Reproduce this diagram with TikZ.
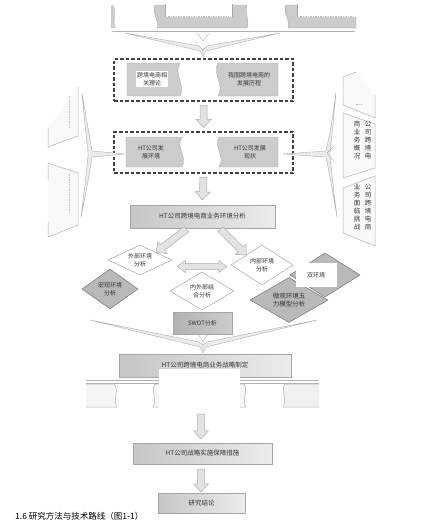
\documentclass[tikz,border=0pt]{standalone}
\usepackage{fontspec}
\newfontfamily\cjk{Noto Sans CJK SC}
\usetikzlibrary{shapes.geometric,calc}
\tikzset{
  txt/.style={font=\cjk\fontsize{6}{7.5}\selectfont, text=black!80, align=center, inner sep=0pt},
  dbox/.style={draw=black!75, dash pattern=on 3.5pt off 2pt, line width=1.1pt, inner sep=0pt},
  mainbox/.style={draw=gray!70, left color=gray!45, right color=gray!15, txt, font=\cjk\fontsize{6.5}{8}\selectfont},
  tape/.style={fill=gray!40, draw=gray!65, line width=0.4pt},
  dia/.style={diamond, aspect=2, draw=gray!70, line width=0.5pt, txt, inner sep=0pt},
  darkdia/.style={dia, fill=gray!55, draw=black!55},
  lightdia/.style={dia, fill=white},
  barrow/.style={fill=gray!22, draw=gray!65, line width=0.5pt},
  fan/.style={fill=gray!15, draw=gray!65, line width=0.4pt},
  panel/.style={draw=gray!60, line width=0.5pt, fill=gray!5},
  vtxt/.style={txt, font=\cjk\fontsize{6.5}{8}\selectfont},
  smudge/.style={draw=gray!50, line width=0.6pt, dash pattern=on 1.5pt off 1pt},
}
\newcommand\blockarr[2]{%
  \filldraw[barrow] let \p1=#1, \p2=#2,
    \n1={atan2(\y2-\y1,\x2-\x1)}, \n2={veclen(\x2-\x1,\y2-\y1)-8pt} in
  ($(\p1)+(\n1+90:3.5pt)$) --
  ($(\p1)+(\n1:\n2)+(\n1+90:3.5pt)$) --
  ($(\p1)+(\n1:\n2)+(\n1+90:7.5pt)$) --
  (\p2) --
  ($(\p1)+(\n1:\n2)+(\n1-90:7.5pt)$) --
  ($(\p1)+(\n1:\n2)+(\n1-90:3.5pt)$) --
  ($(\p1)+(\n1-90:3.5pt)$) -- cycle;}
\newcommand\tapeR[4]{\filldraw[tape] (#1,#2) -- (#3,#2) .. controls ({#3-7},{#2+0.35*(#4-#2)}) and ({#3+6},{#2+0.65*(#4-#2)}) .. (#3,#4) -- (#1,#4) -- cycle;}
\newcommand\tapeL[4]{\filldraw[tape] (#1,#2) .. controls ({#1-6},{#2+0.35*(#4-#2)}) and ({#1+7},{#2+0.65*(#4-#2)}) .. (#1,#4) -- (#3,#4) -- (#3,#2) -- cycle;}
\begin{document}
\begin{tikzpicture}[x=1pt,y=-1pt]
\useasboundingbox (0,0) rectangle (423,522);

% ---------- top band ----------
\fill[gray!40] (111,5) -- (113,5) .. controls (118,12) and (112,21) .. (116,28) -- (111,28) -- cycle;
\filldraw[tape] (155,5) -- (247,5) .. controls (244,12) and (250,20) .. (247,28) -- (157,28) .. controls (160,21) and (151,12) .. (155,5) -- cycle;
\fill[white] (165,0) rectangle (232,17);
\draw[gray!70] (165,4) -- (165,17) (232,4) -- (232,17);
\draw[smudge] (168,16) -- (229,16);
\filldraw[tape] (286,5) -- (356,5) -- (356,28) -- (288,28) .. controls (291,21) and (282,12) .. (286,5) -- cycle;
\fill[white] (297,0) rectangle (357,17);
\draw[gray!70] (297,4) -- (297,17);
\draw[smudge] (300,16) -- (355,16);
\draw[gray!60] (112,31) -- (355,31);
% top fan
\filldraw[fan] (125,33) -- (200,51) -- (203,57) -- (206,51) -- (280,33) -- (207,46) -- (203,50) -- (199,46) -- cycle;
\draw[gray!65, line width=0.4pt] (197,33) -- (203,41) -- (209,33) (203,41) -- (203,57);

% ---------- dashed box 1 ----------
\node[dbox, minimum width=179pt, minimum height=42pt] (d1) at (203.5,80) {};
\tapeR{127}{63}{180}{96}
\tapeL{218}{63}{278}{96}
\node[txt, fill=white, inner sep=1pt] (t1) at (152,79) {跨境电商相\\关理论};
\node[txt] (t2) at (249,79) {我国跨境电商的\\发展历程};

% ---------- dashed box 2 ----------
\node[dbox, minimum width=179pt, minimum height=41pt] (d2) at (203.5,152.5) {};
\tapeR{126}{137}{182}{167}
\tapeL{219}{137}{278}{167}
\node[txt] (t3) at (151,152) {HT公司发\\展环境};
\node[txt] (t4) at (250,152) {HT公司发展\\现状};

% ---------- side fans and panels ----------
\filldraw[fan] (82,93) .. controls (88,128) .. (92,151) -- (125,154) -- (92,157) .. controls (88,182) .. (81,217) .. controls (85,185) .. (88,156) -- (88,152) .. controls (85,125) .. (82,93) -- cycle;
\draw[panel] (78,87) -- (78,136) -- (48,147) -- (48,128);
\draw[panel] (48,180) -- (48,163) -- (78,173) -- (78,225) -- (48,237) -- (48,222);
\draw[smudge] (69,96) -- (69,128);
\draw[smudge] (69,174) -- (69,212);

\filldraw[fan] (336,92) .. controls (331,128) .. (326,151) -- (283,154) -- (326,157) .. controls (331,182) .. (337,217) .. controls (333,185) .. (330,156) -- (330,152) .. controls (333,125) .. (336,92) -- cycle;
\draw[gray!65, line width=0.4pt] (334,146) -- (327,153) -- (334,161);
\filldraw[panel] (356,72) -- (343,77) -- (343,105) -- (375,118) -- (375,95);
\filldraw[panel] (343,113) -- (375,124) -- (375,168) -- (343,178) -- cycle;
\filldraw[panel] (343,188) -- (375,176) -- (375,246) -- (343,233) -- cycle;
\draw[smudge] (356,104) -- (362,104);
\node[vtxt] (r2a) at (368,140) {公\\司\\跨\\境\\电};
\node[vtxt] (r2b) at (357,140) {商\\业\\务\\概\\况};
\node[vtxt] (r3a) at (368,207) {公\\司\\跨\\境\\电\\商};
\node[vtxt] (r3b) at (357,207) {业\\务\\面\\临\\挑\\战};

% ---------- environment analysis ----------
\node[mainbox, minimum width=145pt, minimum height=23pt] (env) at (202.5,216.5) {HT公司跨境电商业务环境分析};

\blockarr{($(d1.south)+(0,4)$)}{($(d2.north)+(0,-4)$)}
\blockarr{($(d2.south)+(0,4)$)}{($(env.north)+(0,-5)$)}

% diamonds
\node[darkdia, minimum width=70pt, minimum height=44pt] (dRU) at (325,275) {};
\node[lightdia, minimum width=64pt, minimum height=30pt] (dTL) at (140,260) {外部环境\\分析};
\node[darkdia, minimum width=56pt, minimum height=40pt] (dLL) at (110,289) {宏观环境\\分析};
\node[lightdia, minimum width=62pt, minimum height=40pt] (dTR) at (262,265) {内部环境\\分析};
\node[lightdia, minimum width=64pt, minimum height=38pt] (dMid) at (202,291) {内外部结\\合分析};
\node[darkdia, minimum width=78pt, minimum height=45pt, font=\cjk\fontsize{6.5}{8}\selectfont] (dRL) at (289,300) {微观环境五\\力模型分析};
\node[txt, fill=white, minimum width=41pt, minimum height=24pt] (dRUt) at (316,275) {双环境};

\blockarr{($(env.south)+(-16,1)$)}{($(dTL.north)!0.5!(dTL.east)$)}
\blockarr{($(env.south)+(18,1)$)}{($(dTR.north)!0.5!(dTR.west)$)}
\coordinate (da1) at ($(dTL.east)+(5,6.5)$);
\coordinate (da2) at ($(dTR.west)+(-4,1.5)$);
\filldraw[barrow] let \p1=(da1), \p2=(da2) in
  (\x1,\y1) -- (\x1+8pt,\y1+6pt) -- (\x1+8pt,\y1+3pt) -- (\x2-8pt,\y1+3pt) -- (\x2-8pt,\y1+6pt) --
  (\x2,\y1) -- (\x2-8pt,\y1-6pt) -- (\x2-8pt,\y1-3pt) -- (\x1+8pt,\y1-3pt) -- (\x1+8pt,\y1-6pt) -- cycle;

% bottom fan and SWOT
\filldraw[fan] (90,320) -- (200,347) -- (203,353) -- (206,347) -- (317,320) -- (207,342) -- (203,345) -- (199,342) -- cycle;
\draw[gray!65, line width=0.4pt] (198,334) -- (203,341) -- (208,334) (203,341) -- (203,353);
\node[txt, draw=gray!70, left color=gray!60, right color=gray!40, minimum width=59pt, minimum height=22pt] (swot) at (202.5,323.5) {SWOT分析};

% ---------- strategy ----------
\node[mainbox, minimum width=172pt, minimum height=23pt] (strat) at (205,365.5) {};
\draw[gray!60] (86,380) -- (319,380) (86,383) -- (319,383);
\filldraw[panel, fill=gray!8] (86,384) -- (114,384) .. controls (120,391) and (112,399) .. (117,407) -- (86,407);
\filldraw[panel, fill=gray!8] (155,384) .. controls (150,391) and (158,399) .. (153,407) -- (200,407) -- (200,384) -- cycle;
\filldraw[panel, fill=gray!8] (200,384) -- (244,384) .. controls (249,391) and (241,399) .. (246,407) -- (200,407);
\filldraw[panel, fill=gray!12] (319,384) -- (285,384) .. controls (280,391) and (288,399) .. (283,407) -- (319,407);
\fill[white] (159,369) rectangle (240,408);
\node[txt, font=\cjk\fontsize{6.5}{8}\selectfont] (stratt) at (strat) {HT公司跨境电商业务战略制定};

% ---------- implementation and conclusion ----------
\node[mainbox, minimum width=139pt, minimum height=21pt] (impl) at (202.5,453.5) {HT公司战略实施保障措施};
\node[mainbox, minimum width=87pt, minimum height=20pt] (concl) at (201.5,503) {研究结论};
\coordinate (a3) at (201,414);
\blockarr{(a3)}{($(a3 |- impl.north)+(0,-4)$)}
\blockarr{($(a3 |- impl.south)+(0,5)$)}{($(a3 |- concl.north)+(0,-1)$)}

% caption
\node[txt, anchor=west, text=black, font=\cjk\fontsize{8.5}{10}\selectfont] (cap) at (15,516.5) {1.6 研究方法与技术路线（图1-1）};
\end{tikzpicture}
\end{document}
